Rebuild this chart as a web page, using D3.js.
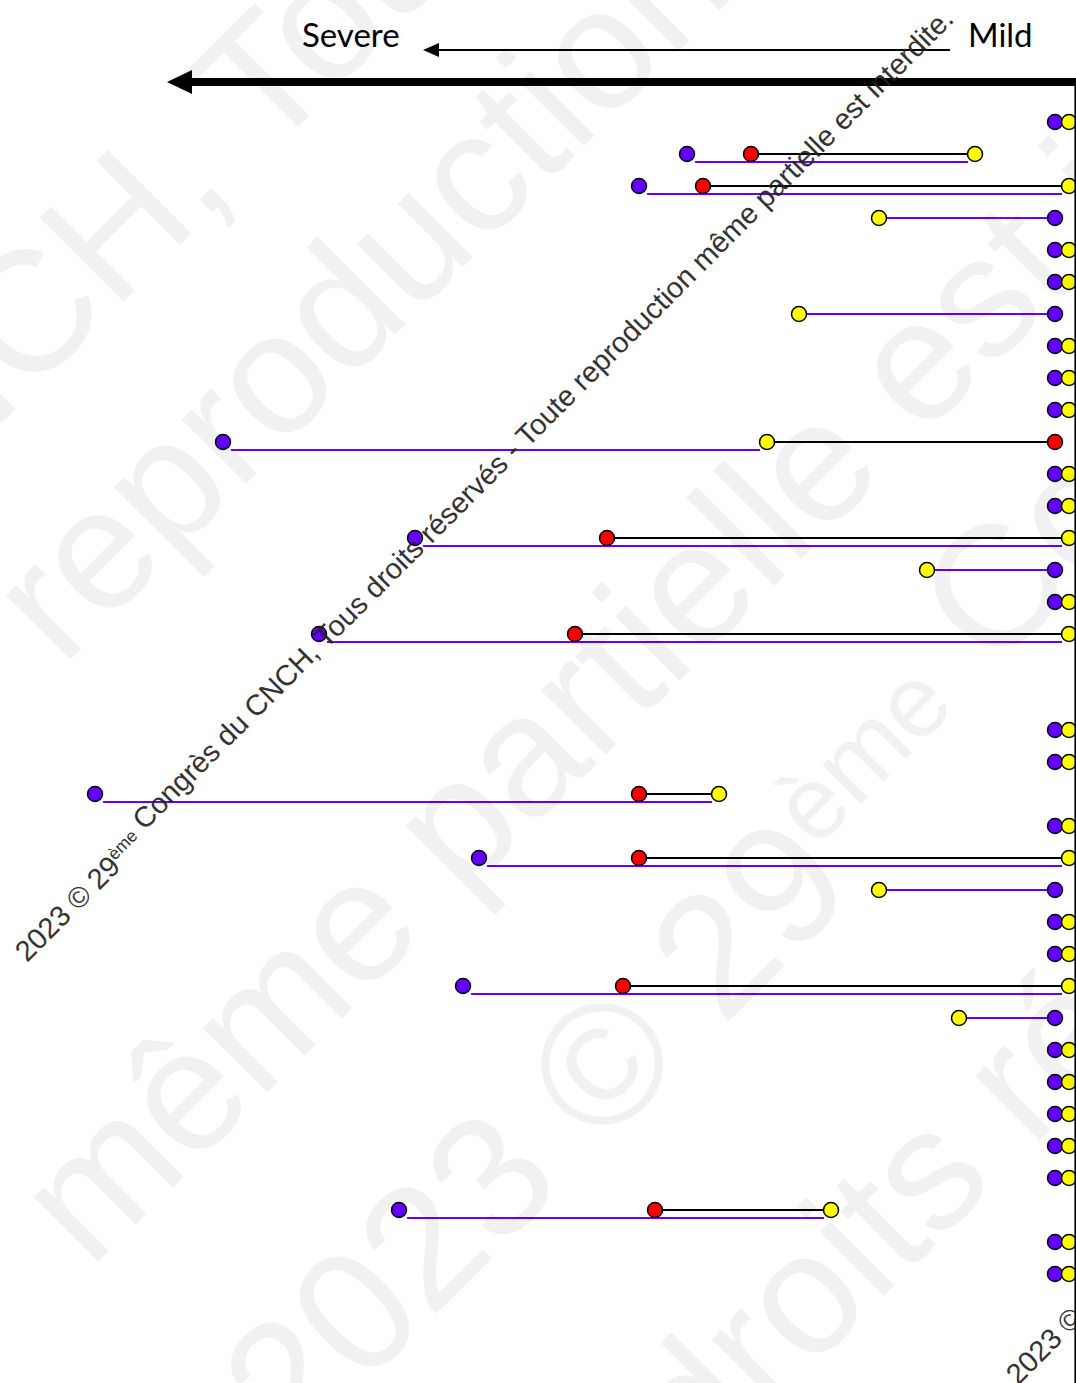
<!DOCTYPE html>
<html><head><meta charset="utf-8">
<script src="https://cdn.jsdelivr.net/npm/d3@7"></script>
<style>html,body{margin:0;padding:0;background:#fff;overflow:hidden}</style>
</head><body><svg id="chart" width="1076" height="1383"></svg>
<script>
// ---------- data ----------
const rowIds = d3.range(37);
// values in scale units (0 = mild end, larger = more severe, to the left)
const purpleVals = [0,23,26,0,0,0,0,0,0,0,52,0,0,40,0,0,46,null,null,0,0,60,0,36,0,0,0,37,0,0,0,0,0,0,41,0,0];
const redVals    = [null,19,22,null,null,null,null,null,null,null,0,null,null,28,null,null,30,null,null,null,null,26,null,26,null,null,null,27,null,null,null,null,null,null,25,null,null];
const yellowVals = [0,5,0,11,0,0,16,0,0,0,18,0,0,0,8,0,0,null,null,0,0,21,0,0,11,0,0,0,6,0,0,0,0,0,14,0,0];
const axisLabels = ["Severe", "Mild"];
const wmText = "2023 © 29ème Congrès du CNCH, Tous droits réservés - Toute reproduction même partielle est interdite.";

// ---------- setup ----------
const W = 1076, H = 1383;
const svg = d3.select("#chart");
const x = d3.scaleLinear().domain([0, 60]).range([1055, 95]);
const y = d3.scaleLinear().domain([0, 36]).range([122, 1274]);
const R = 7.5;
const zeroShift = 14;          // yellow dot at 0 drawn just right of purple
const yx = v => x(v) + (v === 0 ? zeroShift : 0);

const PURPLE = "#6600ff", RED = "#ff0000", YELLOW = "#ffff00";

const rows = rowIds.map(i => ({i, p: purpleVals[i], r: redVals[i], yl: yellowVals[i]}))
  .filter(d => d.p !== null);

const g = svg.append("g");

// black lines red <-> yellow
g.selectAll("line.blk").data(rows.filter(d => d.r !== null)).join("line")
  .attr("x1", d => x(d.r)).attr("x2", d => yx(d.yl))
  .attr("y1", d => y(d.i)).attr("y2", d => y(d.i))
  .attr("stroke", "#000").attr("stroke-width", 1.8);

// purple lines
g.selectAll("line.pur").data(rows.filter(d => d.p !== d.yl)).join("line")
  .each(function(d) {
    const s = d3.select(this);
    if (d.p > d.yl) {
      s.attr("x1", x(d.p) + 8).attr("x2", yx(d.yl) - 7)
       .attr("y1", y(d.i) + 8).attr("y2", y(d.i) + 8);
    } else {
      s.attr("x1", yx(d.yl) + 8).attr("x2", x(d.p) - 8)
       .attr("y1", y(d.i)).attr("y2", y(d.i));
    }
  })
  .attr("stroke", PURPLE).attr("stroke-width", 2);

// dots
g.selectAll("circle.pur").data(rows).join("circle")
  .attr("cx", d => x(d.p)).attr("cy", d => y(d.i)).attr("r", R)
  .attr("fill", PURPLE).attr("stroke", "#000").attr("stroke-width", 1.5);
g.selectAll("circle.red").data(rows.filter(d => d.r !== null)).join("circle")
  .attr("cx", d => x(d.r)).attr("cy", d => y(d.i)).attr("r", R)
  .attr("fill", RED).attr("stroke", "#000").attr("stroke-width", 1.5);
g.selectAll("circle.yel").data(rows).join("circle")
  .attr("cx", d => yx(d.yl)).attr("cy", d => y(d.i)).attr("r", R)
  .attr("fill", YELLOW).attr("stroke", "#000").attr("stroke-width", 1.5);

// right border line
svg.append("line").attr("x1", 1075.2).attr("x2", 1075.2).attr("y1", 82).attr("y2", H)
  .attr("stroke", "#000").attr("stroke-width", 1.6);

// thick arrow
svg.append("rect").attr("x", 190).attr("y", 78).attr("width", W - 190).attr("height", 8).attr("fill", "#000");
svg.append("path").attr("d", "M167,82 L192,70 L192,94 Z").attr("fill", "#000");
// thin arrow
svg.append("line").attr("x1", 436).attr("x2", 950).attr("y1", 50).attr("y2", 50)
  .attr("stroke", "#000").attr("stroke-width", 1.8);
svg.append("path").attr("d", "M423,50 L439,43 L439,57 Z").attr("fill", "#000");

// labels
svg.append("text").attr("x", 302).attr("y", 47).text(axisLabels[0])
  .attr("font-family", "Lato, 'Open Sans', sans-serif").attr("font-size", 33).attr("fill", "#000");
svg.append("text").attr("x", 968).attr("y", 47).text(axisLabels[1])
  .attr("font-family", "Lato, 'Open Sans', sans-serif").attr("font-size", 33).attr("fill", "#000");

// ---------- watermarks ----------
function wm(parent, tx, ty, size, fill, opacity, str) {
  const t = parent.append("text")
    .attr("transform", `translate(${tx},${ty}) rotate(-45)`)
    .attr("font-family", "'Liberation Sans', Arial, sans-serif")
    .attr("font-size", size).attr("fill", fill).attr("opacity", opacity);
  const parts = str.split("ème");
  parts.forEach((p, k) => {
    t.append("tspan").text(p);
    if (k < parts.length - 1) {
      t.append("tspan").attr("font-size", size * 0.6).attr("dy", -size * 0.35).text("ème");
      t.append("tspan").attr("dy", size * 0.35).text("");
    }
  });
  return t;
}
const big = svg.append("g").attr("pointer-events", "none");
const bigSize = 172;
wm(big, -150, 575, bigSize, "#000", 0.05, "CNCH, Tous droits réservés");
wm(big, 62, 668, bigSize, "#000", 0.05, "reproduction même");
wm(big, 90, 1270, bigSize, "#000", 0.05, "même partielle est interdite");
wm(big, 295, 1455, bigSize, "#000", 0.05, "2023 © 29ème Congrès du");
wm(big, 700, 1480, bigSize, "#000", 0.05, "droits réservés");

const small = svg.append("g").attr("pointer-events", "none");
wm(small, 27, 963, 29.0, "#222", 0.92, wmText);
wm(small, 1018, 1386, 29.0, "#222", 0.92, wmText);
</script></body></html>
